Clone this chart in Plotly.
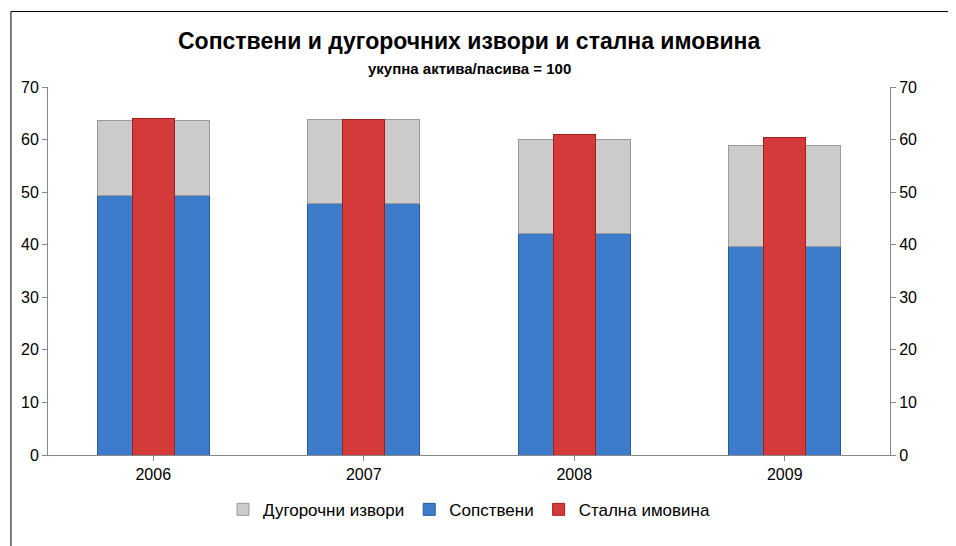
import plotly.graph_objects as go

years = ["2006", "2007", "2008", "2009"]
sopstveni = [49.3, 47.8, 42.2, 39.6]
dugorocni = [14.3, 16.0, 17.8, 19.2]
stalna = [64.0, 63.8, 60.9, 60.3]

fig = go.Figure()
fig.add_trace(go.Bar(x=years, y=stalna, name="Стална имовина", xaxis="x2", yaxis="y",
                     width=0.2, marker=dict(color="#D43A3A", line=dict(color="#A02020", width=1))))
fig.add_trace(go.Bar(x=years, y=sopstveni, name="Сопствени", width=0.53,
                     marker=dict(color="#3D7BCB", line=dict(color="#2A5A9A", width=1))))
fig.add_trace(go.Bar(x=years, y=dugorocni, name="Дугорочни извори", width=0.53,
                     marker=dict(color="#CBCBCB", line=dict(color="#9A9A9A", width=1))))
fig.add_trace(go.Scatter(x=years, y=sopstveni, yaxis="y2", mode="markers",
                         marker=dict(opacity=0), showlegend=False, hoverinfo="skip"))

fig.update_layout(
    width=956, height=546, barmode="stack",
    paper_bgcolor="white", plot_bgcolor="white",
    font=dict(family="Liberation Sans, Arial", size=16, color="black"),
    margin=dict(l=40, r=74, t=79, b=99, autoexpand=False),
    xaxis=dict(type="category", showline=True, linecolor="#888", ticks="outside",
               tickcolor="#888", tickfont=dict(size=16)),
    xaxis2=dict(type="category", overlaying="x", matches="x", visible=False),
    yaxis=dict(range=[0, 70], dtick=10, showgrid=False, showline=True, linecolor="#888",
               ticks="outside", tickcolor="#888", zeroline=False, tickfont=dict(size=16)),
    yaxis2=dict(range=[0, 70], dtick=10, overlaying="y", side="right", showgrid=False,
                showline=True, linecolor="#888", ticks="outside", tickcolor="#888",
                zeroline=False, tickfont=dict(size=16)),
    legend=dict(orientation="h", x=0.5, xanchor="center", y=-0.1, yanchor="top",
                traceorder="reversed", font=dict(size=17)),
    annotations=[
        dict(text="<b>Сопствени и дугорочних извори и стална имовина</b>", xref="paper", yref="paper",
             x=0.5, y=(447 - 33) / 368, yanchor="middle", showarrow=False, font=dict(size=23)),
        dict(text="<b>укупна актива/пасива = 100</b>", xref="paper", yref="paper",
             x=0.5, y=(447 - 60) / 368, yanchor="middle", showarrow=False, font=dict(size=15)),
    ],
    shapes=[dict(type="rect", xref="paper", yref="paper", x0=-0.044, x1=1.083, y0=-0.26, y1=1.205,
                 line=dict(color="black", width=1))],
)
fig.write_html("out.html")
